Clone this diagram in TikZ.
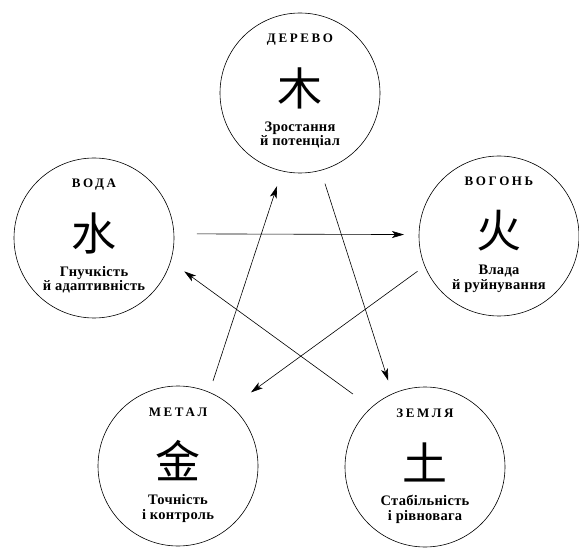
\documentclass[tikz,border=0pt]{standalone}
\usepackage{fontspec}
\setmainfont{Liberation Serif}
\newfontfamily\cjk{Noto Sans CJK SC}
\usetikzlibrary{arrows.meta,positioning}

\tikzset{
  element/.style={circle, draw, line width=0.6pt, minimum size=160pt, inner sep=0pt, outer sep=0pt},
  ttl/.style={anchor=base, font=\bfseries\fontsize{13}{14}\selectfont\addfontfeature{LetterSpace=20}},
  hanzi/.style={inner sep=0pt, font=\cjk\fontsize{45}{45}\selectfont},
  note/.style={anchor=base, align=center, inner sep=0pt, font=\bfseries\fontsize{14.5}{14.5}\selectfont\addfontfeature{LetterSpace=2}},
  ctrl/.style={line width=0.6pt, -{Stealth[length=12pt,width=7pt,inset=3pt]}},
}

\begin{document}
\begin{tikzpicture}[x=1pt, y=1pt]
  \useasboundingbox (0,0) rectangle (579,550);

  % the five elements
  \node[element] (wood)  at (300,457) {};
  \node[element] (fire)  at (499,314) {};
  \node[element] (earth) at (425,83)  {};
  \node[element] (metal) at (178,84)  {};
  \node[element] (water) at (94,312)  {};

  \node[ttl]   (wood-t) at ([yshift=50]wood.center) {ДЕРЕВО};
  \node[hanzi] (wood-h) at ([yshift=5]wood.center) {木};
  \node[note]  (wood-n) at ([yshift=-53]wood.center) {Зростання\\й потенціал};

  \node[ttl]   (fire-t) at ([yshift=50]fire.center) {ВОГОНЬ};
  \node[hanzi] (fire-h) at ([yshift=5]fire.center) {火};
  \node[note]  (fire-n) at ([yshift=-53]fire.center) {Влада\\й руйнування};

  \node[ttl]   (earth-t) at ([yshift=50]earth.center) {ЗЕМЛЯ};
  \node[hanzi] (earth-h) at ([yshift=5]earth.center) {土};
  \node[note]  (earth-n) at ([yshift=-53]earth.center) {Стабільність\\і рівновага};

  \node[ttl]   (metal-t) at ([yshift=50]metal.center) {МЕТАЛ};
  \node[hanzi] (metal-h) at ([yshift=5]metal.center) {金};
  \node[note]  (metal-n) at ([yshift=-53]metal.center) {Точність\\і контроль};

  \node[ttl]   (water-t) at ([yshift=50]water.center) {ВОДА};
  \node[hanzi] (water-h) at ([yshift=5]water.center) {水};
  \node[note]  (water-n) at ([yshift=-53]water.center) {Гнучкість\\й адаптивність};

  % control cycle
  \draw[ctrl, shorten <=23pt, shorten >=15pt] (water.3)    -- (fire.179);
  \draw[ctrl, shorten <=14pt, shorten >=14pt] (wood.-75)   -- (earth.114);
  \draw[ctrl, shorten <=12pt, shorten >=16pt] (metal.67)   -- (wood.257);
  \draw[ctrl, shorten <=9pt,  shorten >=24pt] (fire.202)   -- (metal.48);
  \draw[ctrl, shorten <=23pt, shorten >=17pt] (earth.132)  -- (water.-17);
\end{tikzpicture}
\end{document}
